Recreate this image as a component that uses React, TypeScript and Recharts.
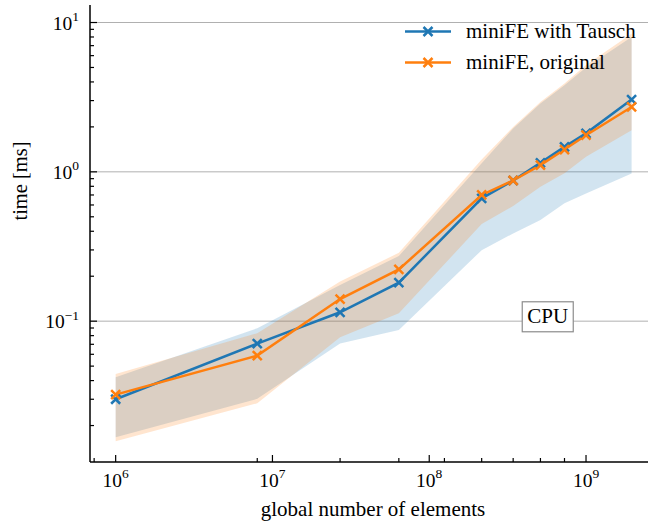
import {
  ComposedChart,
  Area,
  Line,
  XAxis,
  YAxis,
  CartesianGrid,
  Legend,
  ReferenceDot,
} from "recharts";

// global number of elements (n^3 meshes)
const elements = [1e6, 8e6, 2.7e7, 6.4e7, 2.16e8, 3.43e8, 5.12e8, 7.29e8, 1e9, 1.953e9];

const tauschTime = [0.03, 0.0708, 0.1147, 0.181, 0.665, 0.875, 1.149, 1.47, 1.81, 3.05];
const tauschLow = [0.0167, 0.0302, 0.071, 0.0873, 0.299, 0.387, 0.475, 0.615, 0.717, 0.976];
const tauschHigh = [0.0421, 0.0897, 0.175, 0.273, 1.14, 1.95, 2.87, 3.8, 5.0, 8.0];

const originalTime = [0.0322, 0.0588, 0.1407, 0.222, 0.7, 0.875, 1.11, 1.41, 1.76, 2.72];
const originalLow = [0.0157, 0.0282, 0.078, 0.113, 0.447, 0.59, 0.794, 0.98, 1.26, 1.9];
const originalHigh = [0.0443, 0.083, 0.184, 0.287, 1.21, 2.0, 2.94, 3.9, 5.2, 8.4];

const xMajorTicks = [1e6, 1e7, 1e8, 1e9];
const xMinorTicks = [7.29e5, 8e6, 2.7e7, 6.4e7, 1.25e8, 2.16e8, 3.43e8, 5.12e8, 7.29e8];
const yMajorTicks = [0.1, 1, 10];
const yMinorTicks = [
  0.02, 0.03, 0.04, 0.05, 0.06, 0.07, 0.08, 0.09,
  0.2, 0.3, 0.4, 0.5, 0.6, 0.7, 0.8, 0.9,
  2, 3, 4, 5, 6, 7, 8, 9,
];

const X_DOMAIN = [6.86e5, 2.485e9];
const Y_DOMAIN = [0.0114, 13.1];

const BLUE = "#1f77b4";
const ORANGE = "#ff7f0e";
const FONT = '"Liberation Serif", "DejaVu Serif", serif';

const data = elements.map((n, i) => ({
  n,
  tausch: tauschTime[i],
  tauschBand: [tauschLow[i], tauschHigh[i]],
  original: originalTime[i],
  originalBand: [originalLow[i], originalHigh[i]],
}));

const isMajor = (v: number, majors: number[]) =>
  majors.some((m) => Math.abs(m - v) / m < 1e-9);

function Pow10({ x, y, v, anchor }: { x: number; y: number; v: number; anchor: string }) {
  const e = Math.round(Math.log10(v));
  return (
    <text x={x} y={y} textAnchor={anchor} fontFamily={FONT} fontSize={19.5} fill="#000">
      10
      <tspan dy={-8.5} fontSize={13.5}>
        {e < 0 ? `\u2212${-e}` : `${e}`}
      </tspan>
    </text>
  );
}

const BottomTick = (props: any) => {
  const { x, y, payload } = props;
  const major = isMajor(payload.value, xMajorTicks);
  return (
    <g>
      <line x1={x} x2={x} y1={y} y2={y - (major ? 7 : 4)} stroke="#000" strokeWidth={1.2} />
      {major && <Pow10 x={x} y={y + 24.5} v={payload.value} anchor="middle" />}
    </g>
  );
};

const TopTick = (props: any) => {
  const { x, y, payload } = props;
  const major = isMajor(payload.value, xMajorTicks);
  return <line x1={x} x2={x} y1={y} y2={y + (major ? 7 : 4)} stroke="#000" strokeWidth={1.2} />;
};

const LeftTick = (props: any) => {
  const { x, y, payload } = props;
  const major = isMajor(payload.value, yMajorTicks);
  return (
    <g>
      <line x1={x} x2={x + (major ? 7 : 4)} y1={y} y2={y} stroke="#000" strokeWidth={1.2} />
      {major && <Pow10 x={x - 11} y={y + 7} v={payload.value} anchor="end" />}
    </g>
  );
};

const RightTick = (props: any) => {
  const { x, y, payload } = props;
  const major = isMajor(payload.value, yMajorTicks);
  return <line x1={x} x2={x - (major ? 7 : 4)} y1={y} y2={y} stroke="#000" strokeWidth={1.2} />;
};

const xMark = (color: string, r = 4.5) => (props: any) => {
  const { cx, cy } = props;
  if (cx == null || cy == null) return <g key={props.key} />;
  return (
    <path
      key={props.key}
      d={`M${cx - r},${cy - r}L${cx + r},${cy + r}M${cx - r},${cy + r}L${cx + r},${cy - r}`}
      stroke={color}
      strokeWidth={2.5}
      fill="none"
    />
  );
};

const renderLegend = (props: any) => {
  const items = (props.payload || []).filter((p: any) => p.type !== "none");
  return (
    <div style={{ fontFamily: FONT, fontSize: 21, color: "#000" }}>
      {items.map((entry: any) => (
        <div key={entry.value} style={{ display: "flex", alignItems: "center", height: 31 }}>
          <svg width={46} height={31}>
            <line x1={0} x2={46} y1={15.5} y2={15.5} stroke={entry.color} strokeWidth={2.5} />
            {xMark(entry.color)({ cx: 23, cy: 15.5 })}
          </svg>
          <span style={{ marginLeft: 15, whiteSpace: "nowrap" }}>{entry.value}</span>
        </div>
      ))}
    </div>
  );
};

const XLabel = (props: any) => {
  const vb = props.viewBox || { x: 90, y: 462, width: 558, height: 62 };
  return (
    <text x={vb.x + vb.width / 2 + 4} y={vb.y + 54} textAnchor="middle" fontFamily={FONT} fontSize={21} fill="#000">
      global number of elements
    </text>
  );
};

const YLabel = (props: any) => {
  const vb = props.viewBox || { x: 0, y: 5, width: 90, height: 457 };
  return (
    <text
      transform={`translate(${vb.x + 26.5}, ${vb.y + 176}) rotate(-90)`}
      textAnchor="middle"
      fontFamily={FONT}
      fontSize={20.5}
      fill="#000"
    >
      time [ms]
    </text>
  );
};

const CpuBox = (props: any) => {
  const { cx, cy } = props;
  return (
    <g>
      <rect x={cx - 25.5} y={cy - 15} width={51} height={30} fill="#fff" stroke="#8c8c8c" strokeWidth={1.2} />
      <text x={cx} y={cy + 6} textAnchor="middle" fontFamily={FONT} fontSize={21} fill="#000">
        CPU
      </text>
    </g>
  );
};

export default function App() {
  const axisLine = { stroke: "#000", strokeWidth: 1.5 };
  return (
    <div style={{ position: "absolute", left: 0, top: 0, width: 656, height: 524, background: "#fff" }}>
      <ComposedChart width={656} height={524} data={data} margin={{ top: 5, right: 8, bottom: 0, left: 0 }}>
        <CartesianGrid horizontal vertical={false} horizontalValues={yMajorTicks} stroke="#b0b0b0" strokeWidth={1} />
        <XAxis
          dataKey="n"
          type="number"
          scale="log"
          domain={X_DOMAIN}
          allowDataOverflow
          ticks={[...xMajorTicks, ...xMinorTicks]}
          interval={0}
          tickSize={0}
          tickMargin={0}
          tickLine={false}
          tick={BottomTick}
          axisLine={axisLine}
          height={62}
          label={{ content: XLabel }}
        />
        <XAxis
          xAxisId="top"
          orientation="top"
          dataKey="n"
          type="number"
          scale="log"
          domain={X_DOMAIN}
          allowDataOverflow
          ticks={[...xMajorTicks, ...xMinorTicks]}
          interval={0}
          tickSize={0}
          tickMargin={0}
          tickLine={false}
          tick={TopTick}
          axisLine={axisLine}
          height={0}
        />
        <YAxis
          type="number"
          scale="log"
          domain={Y_DOMAIN}
          allowDataOverflow
          ticks={[...yMajorTicks, ...yMinorTicks]}
          interval={0}
          tickSize={0}
          tickMargin={0}
          tickLine={false}
          tick={LeftTick}
          axisLine={axisLine}
          width={90}
          label={{ content: YLabel }}
        />
        <YAxis
          yAxisId="right"
          orientation="right"
          type="number"
          scale="log"
          domain={Y_DOMAIN}
          allowDataOverflow
          ticks={[...yMajorTicks, ...yMinorTicks]}
          interval={0}
          tickSize={0}
          tickMargin={0}
          tickLine={false}
          tick={RightTick}
          axisLine={axisLine}
          width={0}
        />
        <Area
          dataKey="tauschBand"
          type="linear"
          stroke="none"
          fill={BLUE}
          fillOpacity={0.2}
          legendType="none"
          dot={false}
          activeDot={false}
          isAnimationActive={false}
        />
        <Area
          dataKey="originalBand"
          type="linear"
          stroke="none"
          fill={ORANGE}
          fillOpacity={0.2}
          legendType="none"
          dot={false}
          activeDot={false}
          isAnimationActive={false}
        />
        <Line
          dataKey="tausch"
          name="miniFE with Tausch"
          type="linear"
          stroke={BLUE}
          strokeWidth={2.5}
          dot={xMark(BLUE)}
          activeDot={false}
          isAnimationActive={false}
        />
        <Line
          dataKey="original"
          name="miniFE, original"
          type="linear"
          stroke={ORANGE}
          strokeWidth={2.5}
          dot={xMark(ORANGE)}
          activeDot={false}
          isAnimationActive={false}
        />
        <ReferenceDot x={5.7e8} y={0.107} r={0} shape={CpuBox} />
        <Legend
          layout="vertical"
          align="center"
          verticalAlign="middle"
          content={renderLegend}
          wrapperStyle={{ left: 405, top: 16, width: 240, height: 62 }}
        />
      </ComposedChart>
    </div>
  );
}
